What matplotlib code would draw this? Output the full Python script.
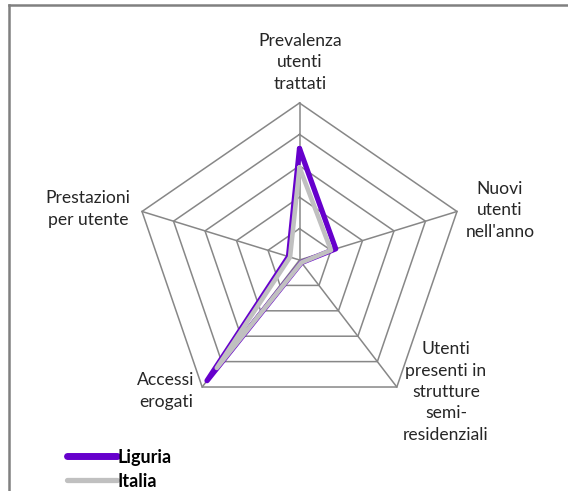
import numpy as np
import matplotlib
matplotlib.use("Agg")
import matplotlib.pyplot as plt
from matplotlib.lines import Line2D

plt.rcParams["font.family"] = ["Lato", "DejaVu Sans"]

# assi del radar, in senso orario a partire dall'alto
categorie = ["Prevalenza\nutenti\ntrattati", "Nuovi\nutenti\nnell'anno",
             "Utenti\npresenti in\nstrutture\nsemi-\nresidenziali",
             "Accessi\nerogati", "Prestazioni\nper utente"]
liguria = [0.71, 0.23, 0.02, 0.95, 0.07]
italia = [0.59, 0.20, 0.02, 0.85, 0.06]
anelli = [0.2, 0.4, 0.6, 0.8, 1.0]

GRID = "#878787"
VIOLA = "#6600cc"
GRIGIO = "#c0c0c0"

n = len(categorie)
theta = np.pi / 2 - np.arange(n) * 2 * np.pi / n


def xy(vals):
    v = np.append(vals, vals[0])
    t = np.append(theta, theta[0])
    return v * np.cos(t), v * np.sin(t)


fig = plt.figure(figsize=(5.68, 4.91), dpi=100)
# assi posizionati per avere raggio 165 px in orizzontale e 157 px in verticale
ax = fig.add_axes([100.8 / 568, 42.6 / 491, 397.4 / 568, 376.8 / 491])
ax.set_xlim(-1.2, 1.2)
ax.set_ylim(-1.2, 1.2)
ax.axis("off")

for r in anelli:
    x, y = xy(np.full(n, r))
    ax.plot(x, y, color=GRID, lw=1.1, zorder=1)
for t in theta:
    ax.plot([0, np.cos(t)], [0, np.sin(t)], color=GRID, lw=1.1, zorder=1)

x, y = xy(np.array(liguria))
ax.plot(x, y, color=VIOLA, lw=3.8, solid_joinstyle="round",
        solid_capstyle="round", zorder=3)
x, y = xy(np.array(italia))
ax.plot(x, y, color=GRIGIO, lw=3.3, solid_joinstyle="round",
        solid_capstyle="round", zorder=4)

# etichette degli assi
pos_etichette = [(0.003, 1.258), (1.21, 0.318), (0.885, -0.841),
                 (-0.806, -0.834), (-1.277, 0.325)]
for lab, (tx, ty) in zip(categorie, pos_etichette):
    ax.text(tx, ty, lab, ha="center", va="center", fontsize=12.6,
            linespacing=1.42, color="#262626")

handles = [Line2D([], [], color=VIOLA, lw=5, solid_capstyle="round"),
           Line2D([], [], color=GRIGIO, lw=3.8, solid_capstyle="round")]
fig.legend(handles, ["Liguria", "Italia"], loc="lower left",
           bbox_to_anchor=(51 / 568, -15 / 491), frameon=False,
           handlelength=2.75, handletextpad=0.05, labelspacing=0.4,
           prop={"weight": "bold", "size": 13})

# bordo del riquadro (tagliato)
fig.add_artist(Line2D([8.7 / 568, 8.7 / 568], [0, 1 - 4.5 / 491],
                      transform=fig.transFigure, color="#808080", lw=1.8))
fig.add_artist(Line2D([8.7 / 568, 1], [1 - 4.5 / 491, 1 - 4.5 / 491],
                      transform=fig.transFigure, color="#808080", lw=1.8))

fig.savefig("out.png", dpi=100)
